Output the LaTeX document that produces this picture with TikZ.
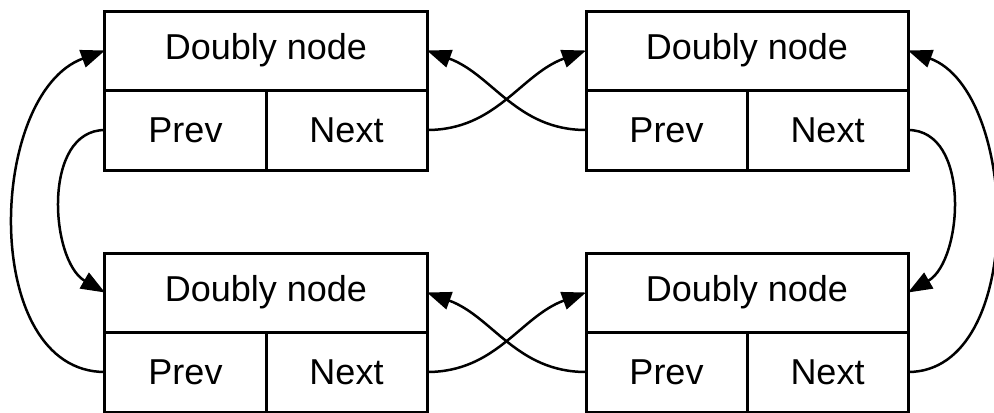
\documentclass[tikz,border=0pt]{standalone}
\usepackage{fontspec}
\setmainfont{Liberation Sans}
\usetikzlibrary{positioning, arrows.meta}

\begin{document}
\begin{tikzpicture}[node distance=240.5pt,on grid,
   head/.style={draw, line width=1.5pt, outer sep=0pt, minimum width=161pt, minimum height=39.5pt, font=\fontsize{18}{21}\selectfont},
   cell/.style={draw, line width=1.5pt, outer sep=0pt, minimum width=80.5pt, minimum height=40pt, font=\fontsize{18}{21}\selectfont},
   link/.style={line width=1.25pt, -{Triangle[length=12pt,width=9pt]}}]
   \useasboundingbox (-133pt,-180.75pt) rectangle (364pt,25.25pt);

   \node[head] (h1) {Doubly node};
   \node[head] (h2) [right=of h1] {Doubly node};
   \node[head] (h3) [below=121pt of h1] {Doubly node};
   \node[head] (h4) [right=of h3] {Doubly node};

   \node[cell, anchor=north west] (p1) at (h1.south west) {Prev};
   \node[cell, anchor=north east] (n1) at (h1.south east) {Next};
   \node[cell, anchor=north west] (p2) at (h2.south west) {Prev};
   \node[cell, anchor=north east] (n2) at (h2.south east) {Next};
   \node[cell, anchor=north west] (p3) at (h3.south west) {Prev};
   \node[cell, anchor=north east] (n3) at (h3.south east) {Next};
   \node[cell, anchor=north west] (p4) at (h4.south west) {Prev};
   \node[cell, anchor=north east] (n4) at (h4.south east) {Next};

   \path[link]
   (p1.west) edge[out=180,in=150] (h3.west)
   (p3.west) edge[out=180,in=200] (h1.west)
   (n1.east) edge[out=0,in=200] (h2.west)
   (p2.west) edge[out=180,in=-20] (h1.east)
   (n2.east) edge[out=0,in=30] (h4.east)
   (n4.east) edge[out=0,in=-20,looseness=0.95] (h2.east)
   (n3.east) edge[out=0,in=200] (h4.west)
   (p4.west) edge[out=180,in=-20] (h3.east);
\end{tikzpicture}
\end{document}
